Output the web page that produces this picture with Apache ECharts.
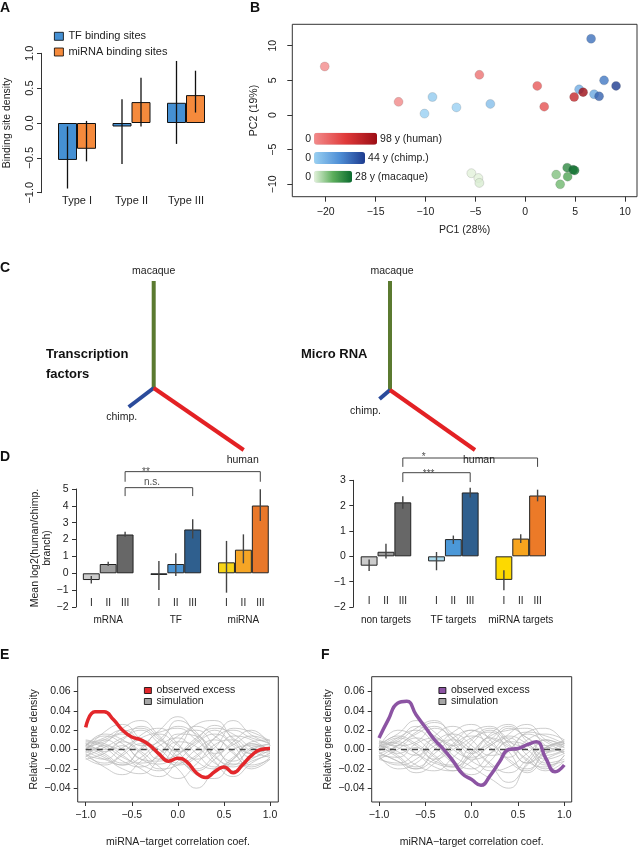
<!DOCTYPE html>
<html><head><meta charset="utf-8">
<script src="https://cdn.jsdelivr.net/npm/echarts@6/dist/echarts.min.js"></script>
<style>html,body{margin:0;padding:0;background:#fff}#c{width:639px;height:849px}</style>
</head><body><div id="c"></div>
<script>
// ================= DATA =================
// Panel A
const aCategories = ['Type I', 'Type II', 'Type III'];
const aTF = [-0.53, -0.05, 0.29];
const aTFLow = [-0.94, -0.59, -0.30];
const aTFHigh = [-0.05, 0.34, 0.89];
const aMiRNA = [-0.37, 0.30, 0.40];
const aMiRNALow = [-0.55, -0.05, 0.15];
const aMiRNAHigh = [0.03, 0.65, 0.75];

// Panel B (PCA)
const humanPC1 = [-20.1, -12.7, -4.6, 1.2, 1.9, 4.9, 5.8];
const humanPC2 = [7.0, 1.9, 5.8, 4.2, 1.2, 2.6, 3.3];
const humanAge = [0, 2, 15, 30, 35, 70, 98];
const chimpPC1 = [-10.1, -9.3, -6.9, -3.5, 5.4, 6.9, 7.4, 6.6, 7.9, 9.1];
const chimpPC2 = [0.2, 2.6, 1.1, 1.6, 3.7, 3.0, 2.7, 11.0, 5.0, 4.2];
const chimpAge = [0, 2, 0, 6, 12, 14, 34, 30, 28, 44];
const macaquePC1 = [-5.4, -4.7, -4.6, 3.1, 3.5, 4.2, 4.25, 4.8, 4.95];
const macaquePC2 = [-8.4, -9.1, -9.8, -8.6, -10.0, -7.6, -8.9, -7.9, -8.0];
const macaqueAge = [0, 0, 1, 10, 12, 22, 16, 28, 26];
const pcXTicks = [-20, -15, -10, -5, 0, 5, 10];
const pcYTicks = [-10, -5, 0, 5, 10];

// Panel C (tree branch end points, branch length units)
const tfTreeMacaque = [0, 107];
const tfTreeChimp = [-25, -19];
const tfTreeHuman = [90, -62];
const mirTreeMacaque = [0, 109];
const mirTreeChimp = [-10.5, -9];
const mirTreeHuman = [85, -60];

// Panel D
const dLevels = ['I', 'II', 'III'];
const dLeftGroups = ['mRNA', 'TF', 'miRNA'];
const dLeftMean = [[-0.40, 0.55, 2.30], [-0.10, 0.55, 2.60], [0.65, 1.40, 4.02]];
const dLeftLow = [[-0.60, 0.43, 2.17], [-0.99, -0.16, 2.07], [-1.15, 0.59, 3.10]];
const dLeftHigh = [[-0.16, 0.69, 2.47], [0.73, 1.19, 3.20], [1.92, 2.31, 4.98]];
const dRightGroups = ['non targets', 'TF targets', 'miRNA targets'];
const dRightMean = [[-0.37, 0.18, 2.13], [-0.20, 0.68, 2.52], [-0.93, 0.70, 2.40]];
const dRightLow = [[-0.58, -0.09, 1.88], [-0.55, 0.49, 2.32], [-1.34, 0.53, 2.17]];
const dRightHigh = [[-0.13, 0.50, 2.37], [0.17, 0.82, 2.71], [-0.55, 0.87, 2.63]];
const dLeftBrackets = [
  {x1: 2, x2: 10, top: 6.03, leg: 5.43, text: '**', ty: 6.01, dx: 4},
  {x1: 2, x2: 6, top: 5.08, leg: 4.58, text: 'n.s.', ty: 5.41, dx: 10}
];
const dRightBrackets = [
  {x1: 2, x2: 10, top: 3.88, leg: 3.53, text: '*', ty: 3.91, dx: 4},
  {x1: 2, x2: 6, top: 3.30, leg: 2.93, text: '***', ty: 3.22, dx: 9}
];

// Panels E / F
const corrX = [-1.0, -0.9, -0.8, -0.7, -0.6, -0.5, -0.4, -0.3, -0.2, -0.1, 0.0, 0.1, 0.2, 0.3, 0.4, 0.5, 0.6, 0.7, 0.8, 0.9, 1.0];
const eObserved = [0.023, 0.039, 0.039, 0.031, 0.020, 0.013, 0.010, 0.004, -0.005, -0.012, -0.009, -0.013, -0.024, -0.029, -0.023, -0.018, -0.024, -0.016, -0.006, 0.000, 0.001];
const fObserved = [0.012, 0.031, 0.048, 0.050, 0.036, 0.023, 0.010, 0.000, -0.012, -0.025, -0.031, -0.037, -0.027, -0.013, 0.000, 0.001, 0.005, 0.008, -0.009, -0.023, -0.016];
const simX = [-1.0, -0.8, -0.6, -0.4, -0.2, 0.0, 0.2, 0.4, 0.6, 0.8, 1.0];
const eSim = [
  [0.005, 0.012, 0.020, 0.008, -0.010, -0.005, 0.010, 0.025, 0.012, -0.004, 0.002],
  [-0.006, -0.014, -0.004, 0.015, 0.022, 0.006, -0.012, -0.020, -0.008, 0.006, -0.003],
  [0.008, 0.002, -0.012, -0.018, -0.004, 0.014, 0.020, 0.004, -0.015, -0.010, 0.004],
  [-0.002, 0.018, 0.026, 0.010, -0.006, -0.016, -0.008, 0.012, 0.030, 0.015, 0.006],
  [0.000, -0.008, -0.020, -0.025, -0.010, 0.008, 0.003, -0.014, -0.022, -0.012, -0.006],
  [0.010, 0.006, 0.000, 0.012, 0.018, 0.022, 0.010, -0.004, 0.005, 0.014, 0.008],
  [-0.010, -0.004, 0.008, -0.002, -0.018, -0.030, -0.015, 0.005, 0.010, -0.002, -0.008],
  [0.004, 0.014, 0.006, -0.010, -0.015, 0.000, 0.026, 0.030, 0.010, -0.008, 0.000],
  [-0.004, -0.018, -0.026, -0.012, 0.004, 0.012, -0.004, -0.018, -0.010, 0.008, 0.010],
  [0.006, 0.000, 0.010, 0.024, 0.012, -0.008, -0.022, -0.010, 0.008, 0.020, 0.004],
  [-0.008, 0.004, -0.006, -0.020, -0.028, -0.012, 0.006, 0.016, 0.004, -0.016, -0.010],
  [0.002, 0.008, 0.016, 0.004, 0.008, 0.030, 0.018, -0.006, -0.018, -0.006, 0.002],
  [-0.005, -0.010, 0.002, 0.010, -0.004, -0.020, -0.040, -0.020, 0.000, 0.004, -0.002],
  [0.007, -0.004, -0.014, 0.000, 0.016, 0.004, -0.010, 0.002, 0.022, 0.018, 0.009],
  [0.000, 0.010, 0.000, -0.014, -0.006, 0.016, 0.014, -0.012, -0.028, -0.014, -0.004],
  [-0.003, 0.006, 0.022, 0.030, 0.014, -0.002, 0.008, 0.020, 0.006, -0.004, 0.003],
  [0.004, -0.006, -0.016, -0.008, 0.010, 0.024, 0.016, 0.000, -0.012, 0.000, 0.006],
  [-0.007, 0.002, 0.012, 0.020, 0.006, -0.010, -0.020, -0.006, 0.014, 0.010, -0.002],
  [0.003, 0.016, 0.010, -0.004, -0.020, -0.016, 0.000, 0.010, -0.004, -0.018, -0.008],
  [-0.002, -0.010, -0.016, 0.002, 0.020, 0.034, 0.014, -0.008, -0.016, 0.002, 0.005],
  [0.009, 0.004, -0.008, -0.016, -0.022, -0.006, 0.012, 0.022, 0.016, 0.002, -0.004],
  [-0.009, -0.016, -0.006, 0.006, 0.000, -0.014, -0.006, 0.012, 0.020, 0.012, 0.007],
  [0.001, 0.010, 0.018, 0.022, 0.010, -0.002, -0.026, -0.030, -0.010, 0.006, 0.000],
  [0.006, -0.002, 0.004, -0.010, -0.012, 0.008, 0.024, 0.014, -0.002, -0.020, -0.010]
];
const fSim = [
  [0.006, 0.016, 0.030, 0.018, 0.000, -0.008, 0.004, 0.014, 0.006, -0.006, 0.000],
  [-0.008, -0.016, -0.010, 0.008, 0.016, 0.004, -0.014, -0.024, -0.010, 0.010, 0.004],
  [0.004, -0.002, -0.016, -0.022, -0.008, 0.010, 0.022, 0.010, -0.012, -0.018, -0.006],
  [0.000, 0.012, 0.020, 0.006, -0.012, -0.020, -0.004, 0.016, 0.026, 0.010, 0.002],
  [-0.004, -0.012, -0.024, -0.014, 0.004, 0.014, 0.006, -0.010, -0.020, -0.004, 0.006],
  [0.010, 0.004, 0.008, 0.022, 0.012, -0.004, 0.010, 0.024, 0.012, 0.004, 0.010],
  [-0.010, 0.000, 0.012, 0.002, -0.014, -0.026, -0.012, 0.008, 0.004, -0.014, -0.010],
  [0.002, 0.020, 0.012, -0.006, -0.018, -0.006, 0.016, 0.026, 0.008, -0.010, -0.004],
  [-0.006, -0.020, -0.014, 0.004, 0.010, 0.000, -0.016, -0.034, -0.016, 0.002, 0.008],
  [0.008, 0.002, -0.006, 0.014, 0.024, 0.010, -0.006, 0.000, 0.018, 0.022, 0.006],
  [-0.002, 0.008, -0.004, -0.018, -0.022, -0.004, 0.012, 0.004, -0.010, -0.022, -0.012],
  [0.004, 0.010, 0.024, 0.014, 0.004, 0.018, 0.024, 0.006, -0.014, -0.004, 0.000],
  [-0.006, -0.008, 0.006, 0.012, -0.006, -0.018, -0.030, -0.040, -0.014, 0.002, -0.004],
  [0.008, -0.006, -0.018, -0.004, 0.012, 0.020, 0.002, -0.008, 0.010, 0.016, 0.010],
  [0.000, 0.012, 0.004, -0.010, 0.000, 0.012, 0.018, -0.002, -0.024, -0.010, -0.002],
  [-0.004, 0.004, 0.018, 0.028, 0.016, 0.000, 0.006, 0.022, 0.012, -0.002, 0.004],
  [0.005, -0.008, -0.020, -0.010, 0.006, 0.020, 0.012, 0.002, -0.014, 0.002, 0.008],
  [-0.008, 0.004, 0.016, 0.024, 0.008, -0.012, -0.018, -0.002, 0.016, 0.008, -0.004],
  [0.002, 0.014, 0.006, -0.008, -0.022, -0.012, 0.004, 0.012, -0.006, -0.020, -0.006],
  [-0.003, -0.012, -0.020, 0.000, 0.018, 0.026, 0.010, -0.012, -0.022, 0.000, 0.006],
  [0.008, 0.006, -0.004, -0.014, -0.018, -0.002, 0.014, 0.020, 0.022, 0.004, -0.002],
  [-0.010, -0.014, -0.004, 0.010, 0.004, -0.010, -0.004, 0.010, 0.018, 0.014, 0.006],
  [0.000, 0.008, 0.022, 0.030, 0.012, -0.004, -0.022, -0.018, -0.004, 0.010, 0.002],
  [0.006, -0.004, 0.002, -0.012, -0.016, 0.006, 0.020, 0.008, 0.000, -0.016, -0.012]
];
const corrTicks = [-1, -0.5, 0, 0.5, 1];
const densTicks = [-0.04, -0.02, 0, 0.02, 0.04, 0.06];

// ================= STYLE =================
const FF = "'Liberation Sans', Arial, Helvetica, sans-serif";
const TXT = '#222';
const AX = '#333';
function fmt(v, d) { const s = Math.abs(v).toFixed(d); return (v < -1e-9 ? '\u2212' : '') + s; }
const ts = (size, extra) => Object.assign({fontSize: size, color: TXT, fontFamily: FF}, extra || {});

const dLeftColors = [['#cccccc', '#9b9b9b', '#676767'], ['#7fa6c2', '#4b93d2', '#2f5f8e'], ['#f7d417', '#f6a525', '#e9782a']];
const dRightColors = [['#cccccc', '#9b9b9b', '#676767'], ['#a9d9ec', '#4b98d8', '#2f5f8e'], ['#fdd900', '#f7a41e', '#ec7a28']];

// ================= BUILD =================
const series = [];

function errSeries(gi, items, offset, color, width) {
  return {
    type: 'custom', xAxisIndex: gi, yAxisIndex: gi, data: items, silent: true, z: 5,
    renderItem: (params, api) => {
      const p1 = api.coord([api.value(0), api.value(1)]);
      const p2 = api.coord([api.value(0), api.value(2)]);
      return {type: 'line', shape: {x1: p1[0] + offset, y1: p1[1], x2: p2[0] + offset, y2: p2[1]},
        style: {stroke: color, lineWidth: width}};
    }
  };
}

// ---- A ----
const A_BW = 19;
series.push({type: 'bar', name: 'TF binding sites', xAxisIndex: 0, yAxisIndex: 0, data: aTF, barWidth: A_BW, barGap: '0%',
  itemStyle: {color: '#4590d3', borderColor: '#111', borderWidth: 1}, silent: true});
series.push({type: 'bar', name: 'miRNA binding sites', xAxisIndex: 0, yAxisIndex: 0, data: aMiRNA, barWidth: A_BW, barGap: '0%',
  itemStyle: {color: '#f58a3c', borderColor: '#111', borderWidth: 1}, silent: true});
series.push(errSeries(0, aCategories.map((c, i) => [i, aTFLow[i], aTFHigh[i]]), -A_BW / 2, '#111', 1.3));
series.push(errSeries(0, aCategories.map((c, i) => [i, aMiRNALow[i], aMiRNAHigh[i]]), A_BW / 2, '#111', 1.3));

// ---- B ----
const bStyle = {borderColor: 'rgba(70,70,70,0.35)', borderWidth: 0.6};
const idxChimp = series.length;
series.push({type: 'scatter', name: 'chimp', xAxisIndex: 1, yAxisIndex: 1, symbolSize: 9, itemStyle: bStyle,
  data: chimpPC1.map((x, i) => [x, chimpPC2[i], chimpAge[i]])});
const idxHuman = series.length;
series.push({type: 'scatter', name: 'human', xAxisIndex: 1, yAxisIndex: 1, symbolSize: 9, itemStyle: bStyle,
  data: humanPC1.map((x, i) => [x, humanPC2[i], humanAge[i]])});
const idxMacaque = series.length;
series.push({type: 'scatter', name: 'macaque', xAxisIndex: 1, yAxisIndex: 1, symbolSize: 9, itemStyle: bStyle,
  data: macaquePC1.map((x, i) => [x, macaquePC2[i], macaqueAge[i]])});

// ---- C ----
function branch(gi, end, color, text, pos, dist, off) {
  return {type: 'line', xAxisIndex: gi, yAxisIndex: gi, silent: true, symbol: 'circle', symbolSize: 0.1, showSymbol: true,
    itemStyle: {color: color}, lineStyle: {color: color, width: 4, cap: 'butt'},
    data: [[0, 0], {value: end, label: {show: true, formatter: text, position: pos, distance: dist, offset: off,
      fontSize: 10.5, color: TXT, fontFamily: FF}}]};
}
const cGreen = '#5b7a30', cBlue = '#2b4b9b', cRed = '#e32124';
series.push(branch(2, tfTreeMacaque, cGreen, 'macaque', 'top', 4, [0, 0]));
series.push(branch(2, tfTreeChimp, cBlue, 'chimp.', 'bottom', 5, [-7, 0]));
series.push(branch(2, tfTreeHuman, cRed, 'human', 'bottom', 5, [-1, 0]));
series.push(branch(3, mirTreeMacaque, cGreen, 'macaque', 'top', 4, [2, 0]));
series.push(branch(3, mirTreeChimp, cBlue, 'chimp.', 'bottom', 7, [-14, 0]));
series.push(branch(3, mirTreeHuman, cRed, 'human', 'bottom', 5, [4, 0]));

// ---- D ----
function buildD(gi, groups, means, lows, highs, colors, brackets) {
  const cats = [], bars = [], errs = [];
  groups.forEach((g, gI) => {
    dLevels.forEach((lv, lI) => {
      const idx = cats.length;
      cats.push(lI === 1 ? lv + '\n' + g : lv);
      bars.push({value: means[gI][lI], itemStyle: {color: colors[gI][lI]}});
      errs.push([idx, lows[gI][lI], highs[gI][lI]]);
    });
    if (gI < groups.length - 1) { cats.push(''); bars.push('-'); }
  });
  series.push({type: 'bar', xAxisIndex: gi, yAxisIndex: gi, data: bars, barWidth: '100%', silent: true,
    itemStyle: {borderColor: '#222', borderWidth: 1}});
  series.push(errSeries(gi, errs, 0, '#444', 1.4));
  brackets.forEach(b => {
    series.push({type: 'line', xAxisIndex: gi, yAxisIndex: gi, clip: false, silent: true, symbol: 'none',
      lineStyle: {color: '#444', width: 1},
      data: [[b.x1, b.leg], [b.x1, b.top], [b.x2, b.top], [b.x2, b.leg]]});
    series.push({type: 'scatter', xAxisIndex: gi, yAxisIndex: gi, clip: false, silent: true, symbolSize: 0,
      data: [{value: [3, b.ty], label: {show: true, position: 'inside', formatter: b.text, offset: [b.dx, 0],
        fontSize: 10, color: TXT, fontFamily: FF}}]});
  });
  return cats;
}
const dLeftCats = buildD(4, dLeftGroups, dLeftMean, dLeftLow, dLeftHigh, dLeftColors, dLeftBrackets);
const dRightCats = buildD(5, dRightGroups, dRightMean, dRightLow, dRightHigh, dRightColors, dRightBrackets);

// ---- E / F ----
function buildDensity(gi, sims, observed, color) {
  sims.forEach(s => series.push({type: 'line', name: 'simulation', xAxisIndex: gi, yAxisIndex: gi, smooth: true,
    symbol: 'none', silent: true, data: simX.map((x, i) => [x, s[i]]),
    lineStyle: {color: '#b8b8b8', width: 0.7}, itemStyle: {color: '#a6a6a6'}}));
  series.push({type: 'line', xAxisIndex: gi, yAxisIndex: gi, symbol: 'none', silent: true,
    data: [[-1, 0], [1, 0]], lineStyle: {color: '#444', width: 1.5, type: [6, 5]}});
  series.push({type: 'line', name: 'observed excess', xAxisIndex: gi, yAxisIndex: gi, smooth: true, symbol: 'none', silent: true,
    data: corrX.map((x, i) => [x, observed[i]]), lineStyle: {color: color, width: 3.5}, itemStyle: {color: color}});
}
const eRed = '#e3272b', fPurple = '#8c54a3';
buildDensity(6, eSim, eObserved, eRed);
buildDensity(7, fSim, fObserved, fPurple);

// ================= AXES =================
const noSplit = {show: false};
const hiddenLine = {show: false, onZero: false};
function densX(gi, min, max) {
  return {gridIndex: gi, type: 'value', min: min, max: max, splitLine: noSplit, axisLine: hiddenLine,
    axisTick: {show: true, length: 4, customValues: corrTicks, lineStyle: {color: AX}},
    axisLabel: {customValues: corrTicks, formatter: v => fmt(v, 1), margin: 8, ...ts(10.5)},
    name: 'miRNA\u2212target correlation coef.', nameLocation: 'middle', nameGap: 35, nameTextStyle: ts(10.5)};
}
function densY(gi) {
  return {gridIndex: gi, type: 'value', min: -0.0543, max: 0.0754, splitLine: noSplit, axisLine: hiddenLine,
    axisTick: {show: true, length: 4, customValues: densTicks, lineStyle: {color: AX}},
    axisLabel: {customValues: densTicks, formatter: v => fmt(v, 2), margin: 7, ...ts(10.5)},
    name: 'Relative gene density', nameLocation: 'middle', nameGap: 38, nameTextStyle: ts(10.5)};
}
function dX(gi, cats, off, lh) {
  return {gridIndex: gi, type: 'category', data: cats, offset: off, axisLine: hiddenLine, axisTick: {show: false},
    axisLabel: {interval: 0, margin: 0, lineHeight: lh, ...ts(10)}};
}
function dY(gi, min, max, off, name) {
  const o = {gridIndex: gi, type: 'value', min: min, max: max, interval: 1, offset: off, splitLine: noSplit,
    axisLine: {show: true, onZero: false, lineStyle: {color: AX}}, axisTick: {show: true, length: 4, lineStyle: {color: AX}},
    axisLabel: {margin: 7.5, formatter: v => fmt(v, 0), ...ts(10.5)}};
  if (name) Object.assign(o, {name: name, nameLocation: 'middle', nameGap: 20, nameTextStyle: ts(10.5, {lineHeight: 12})});
  return o;
}

const xAxis = [
  {gridIndex: 0, type: 'category', data: aCategories, axisLine: hiddenLine, axisTick: {show: false},
    axisLabel: {margin: 3, ...ts(11)}},
  {gridIndex: 1, type: 'value', min: -23.35, max: 11.2, splitLine: noSplit, axisLine: hiddenLine,
    axisTick: {show: true, length: 5, customValues: pcXTicks, lineStyle: {color: AX}},
    axisLabel: {customValues: pcXTicks, formatter: v => fmt(v, 0), margin: 10, ...ts(10.5)},
    name: 'PC1 (28%)', nameLocation: 'middle', nameGap: 28, nameTextStyle: ts(10.5)},
  {gridIndex: 2, type: 'value', min: -50, max: 150, show: false},
  {gridIndex: 3, type: 'value', min: -50, max: 150, show: false},
  dX(4, dLeftCats, -13, 17.5),
  dX(5, dRightCats, -15, 18.8),
  densX(6, -1.087, 1.09),
  densX(7, -1.079, 1.08)
];
const yAxis = [
  {gridIndex: 0, type: 'value', min: -1, max: 1, interval: 0.5, offset: 8.75, splitLine: noSplit,
    axisLine: {show: true, onZero: false, lineStyle: {color: AX}}, axisTick: {show: true, length: 4, lineStyle: {color: AX}},
    axisLabel: {rotate: 90, margin: 6, formatter: v => fmt(v, 1), ...ts(11)},
    name: 'Binding site density', nameLocation: 'middle', nameGap: 28, nameTextStyle: ts(10.5)},
  {gridIndex: 1, type: 'value', min: -11.79, max: 13.09, splitLine: noSplit, axisLine: hiddenLine,
    axisTick: {show: true, length: 5, customValues: pcYTicks, lineStyle: {color: AX}},
    axisLabel: {customValues: pcYTicks, rotate: 90, formatter: v => fmt(v, 0), margin: 14, ...ts(10.5)},
    name: 'PC2 (19%)', nameLocation: 'middle', nameGap: 23, nameTextStyle: ts(10.5)},
  {gridIndex: 2, type: 'value', min: -82, max: 118, show: false},
  {gridIndex: 3, type: 'value', min: -82, max: 118, show: false},
  dY(4, -2, 5, 6.85, 'Mean log2(human/chimp.\nbranch)'),
  dY(5, -2, 3, 7.4, null),
  densY(6),
  densY(7)
];

const boxed = {show: true, borderColor: AX, borderWidth: 1, backgroundColor: 'transparent'};
const grid = [
  {left: 49.75, top: 53.3, width: 163.5, height: 139.4},
  Object.assign({left: 292.3, top: 24.3, width: 344.7, height: 172.4}, boxed),
  {left: 103.7, top: 270, width: 200, height: 200},
  {left: 340, top: 272, width: 200, height: 200},
  {left: 82.85, top: 489, width: 185.9, height: 118},
  {left: 360.7, top: 480.3, width: 185.3, height: 126.7},
  Object.assign({left: 77.7, top: 676.7, width: 200.6, height: 126.6}, boxed),
  Object.assign({left: 371.7, top: 676.7, width: 200, height: 126.6}, boxed)
];

const letter = (t, l, tp) => ({text: t, left: l, top: tp, padding: 0, textStyle: ts(14, {fontWeight: 'bold', color: '#111'})});
const title = [
  letter('A', 0, 1.3), letter('B', 250, 1.3), letter('C', 0, 261), letter('D', 0, 450), letter('E', 0, 648), letter('F', 321, 648),
  {text: 'Transcription\nfactors', left: 46, top: 344.6, padding: 0, textStyle: ts(13, {fontWeight: 'bold', lineHeight: 20, color: '#111'})},
  {text: 'Micro RNA', left: 301, top: 348, padding: 0, textStyle: ts(13, {fontWeight: 'bold', color: '#111'})}
];

const legendBase = {orient: 'vertical', icon: 'rect', selectedMode: false, padding: 0,
  itemStyle: {borderColor: '#000', borderWidth: 0.8}};
const legend = [
  Object.assign({}, legendBase, {left: 54, top: 29.8, itemWidth: 9, itemHeight: 8, itemGap: 2.7,
    data: ['TF binding sites', 'miRNA binding sites'], textStyle: ts(11, {lineHeight: 13})}),
  Object.assign({}, legendBase, {left: 144, top: 685, itemWidth: 7, itemHeight: 6, itemGap: 0,
    data: ['observed excess', 'simulation'], textStyle: ts(10.5, {lineHeight: 10})}),
  Object.assign({}, legendBase, {left: 438.5, top: 685, itemWidth: 7, itemHeight: 6, itemGap: 0,
    data: [{name: 'observed excess', itemStyle: {color: fPurple}}, {name: 'simulation', itemStyle: {color: '#a6a6a6'}}],
    textStyle: ts(10.5, {lineHeight: 10})})
];

function vm(si, max, colors, text, len, top) {
  return {type: 'continuous', seriesIndex: si, dimension: 2, min: 0, max: max, inRange: {color: colors},
    orient: 'horizontal', left: 305.2, top: top, itemWidth: 12, itemHeight: len, text: [text, '0'], textGap: 3,
    padding: 0, calculable: false, realtime: false, hoverLink: false, textStyle: ts(10.5)};
}
const visualMap = [
  vm(idxHuman, 98, ['#f28b8b', '#e03a3a', '#9c0d15'], '98 y (human)', 63, 132.7),
  vm(idxChimp, 44, ['#99d0f2', '#4f8fd6', '#1d3b8f'], '44 y (chimp.)', 51, 152),
  vm(idxMacaque, 28, ['#e2f1da', '#5cae5c', '#0b6b2e'], '28 y (macaque)', 38, 170.7)
];

const chart = echarts.init(document.getElementById('c'), null, {renderer: 'canvas'});
chart.setOption({
  animation: false, backgroundColor: '#fff',
  title, legend, grid, xAxis, yAxis, visualMap, series
});
</script></body></html>
